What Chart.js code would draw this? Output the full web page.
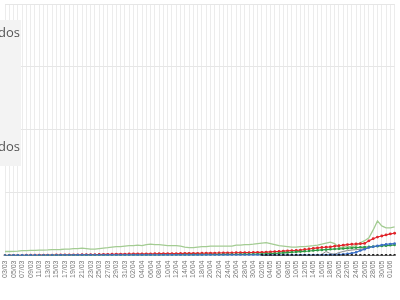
<!DOCTYPE html>
<html>
<head>
<meta charset="utf-8">
<script src="https://cdn.jsdelivr.net/npm/chart.js@4"></script>
<style>
  html, body { margin: 0; padding: 0; background: #fff; overflow: hidden; }
  #wrap { position: absolute; left: 0; top: 0; width: 408px; height: 300px; }
</style>
</head>
<body>
<div id="wrap"><canvas id="grafico"></canvas></div>
<script>
// fechas (dia/mes)
const fechas = [
  "03/03","04/03","05/03","06/03","07/03","08/03","09/03","10/03","11/03","12/03","13/03","14/03","15/03","16/03","17/03","18/03",
  "19/03","20/03","21/03","22/03","23/03","24/03","25/03","26/03","27/03","28/03","29/03","30/03","31/03","01/04","02/04","03/04",
  "04/04","05/04","06/04","07/04","08/04","09/04","10/04","11/04","12/04","13/04","14/04","15/04","16/04","17/04","18/04","19/04",
  "20/04","21/04","22/04","23/04","24/04","25/04","26/04","27/04","28/04","29/04","30/04","01/05","02/05","03/05","04/05","05/05",
  "06/05","07/05","08/05","09/05","10/05","11/05","12/05","13/05","14/05","15/05","16/05","17/05","18/05","19/05","20/05","21/05",
  "22/05","23/05","24/05","25/05","26/05","27/05","28/05","29/05","30/05","31/05","01/06","02/06"
];

// nuevos casos (linea verde clara)
const nuevos = [
  190,190,195,210,235,235,240,240,260,260,265,280,280,285,305,305,
  330,330,355,330,305,305,330,355,375,400,425,425,450,470,470,495,
  470,520,540,520,520,495,470,470,470,450,400,375,375,400,425,425,
  450,450,450,450,450,450,495,495,520,520,540,565,590,610,565,520,
  470,450,425,400,400,425,425,450,470,495,540,590,635,565,375,400,
  425,425,470,610,705,845,1220,1650,1410,1320,1320,1365
];

// confirmados (rojo)
const confirmados = [
  0,2,4,5,8,10,12,13,15,17,18,20,22,24,25,28,
  30,33,36,40,42,45,48,52,55,58,61,64,67,70,72,74,
  76,78,80,82,84,86,88,90,92,94,96,98,100,103,106,109,
  112,115,118,121,124,127,130,133,136,139,142,145,152,160,170,180,
  190,205,220,235,245,260,285,310,335,360,380,395,415,440,465,490,
  520,535,550,560,575,700,800,880,930,980,1030,1060
];

// recuperados (verde)
const recuperados = [
  0,0,0,0,0,0,0,0,0,0,1,1,1,2,2,3,
  3,4,4,5,5,6,7,8,9,10,11,12,13,14,15,16,
  17,18,19,20,21,22,23,24,25,26,27,28,29,30,32,34,
  36,38,40,42,44,46,48,50,52,55,58,62,66,75,85,95,
  110,125,140,155,170,185,200,215,235,250,265,280,295,310,320,330,
  345,360,375,390,400,410,425,440,455,470,485,505
];

// activos (azul)
const activos = [
  0,2,3,4,6,7,8,9,10,10,11,12,12,13,13,14,
  14,15,15,15,16,16,16,17,17,17,17,18,18,18,18,18,
  18,19,19,19,19,19,19,19,20,20,20,20,20,20,20,20,
  20,20,20,20,20,20,20,20,20,20,21,21,21,21,21,22,
  22,22,22,22,22,23,23,23,23,24,25,26,28,30,40,60,
  80,110,150,235,300,380,420,460,500,530,550,570
];

// sospechosos (gris)
const sospechosos = [
  null,null,null,null,null,null,null,null,null,null,null,null,null,null,null,null,
  null,null,null,null,null,null,null,null,null,null,null,null,null,null,null,null,
  null,null,null,null,null,null,null,null,null,null,null,null,null,null,null,null,
  null,null,null,null,null,null,null,null,null,null,null,null,null,null,null,null,
  null,null,null,null,null,null,null,null,null,null,60,190,90,60,140,190,
  235,260,280,300,330,350,null,null,null,null,null,null
];

// fallecidos (negro)
const fallecidos = [
  null,null,null,null,null,null,null,null,null,null,null,null,null,null,null,null,
  null,null,null,null,null,null,null,null,null,null,null,null,null,null,null,null,
  null,null,null,null,null,null,null,null,null,null,null,null,null,null,null,null,
  null,null,null,null,null,null,null,null,null,null,null,null,0,0,0,0,
  0,0,0,0,0,0,0,0,0,0,0,0,0,0,0,0,
  0,0,0,0,0,0,0,0,0,0,0,0
];

// caja gris de la izquierda (recortada)
const cajaLeyenda = {
  id: 'cajaLeyenda',
  afterDraw(chart) {
    const c = chart.ctx;
    c.save();
    c.fillStyle = '#f3f3f3';
    c.fillRect(0, 20, 21, 146);
    c.fillStyle = '#555';
    c.font = '13px "Open Sans", sans-serif';
    c.textAlign = 'right';
    c.textBaseline = 'middle';
    c.fillText('Recuperados', 20, 33);
    c.fillText('Fallecidos', 20, 147);
    c.restore();
  }
};

const ctx = document.getElementById('grafico');
new Chart(ctx, {
  type: 'line',
  data: {
    labels: fechas,
    datasets: [
      { label: 'Fallecidos', data: fallecidos, borderColor: '#111', backgroundColor: '#111',
        borderWidth: 1, pointRadius: 1.4, pointBorderWidth: 0 },
      { label: 'Activos', data: activos, borderColor: '#3b6fc4', backgroundColor: '#3b6fc4',
        borderWidth: 1.2, pointRadius: 1.3, pointBorderWidth: 0 },
      { label: 'Sospechosos', data: sospechosos, borderColor: '#8a8a8a', backgroundColor: '#8a8a8a',
        borderWidth: 1, pointRadius: 0 },
      { label: 'Recuperados', data: recuperados, borderColor: '#2e9a44', backgroundColor: '#2e9a44',
        borderWidth: 1.2, pointRadius: 1.3, pointBorderWidth: 0 },
      { label: 'Confirmados', data: confirmados, borderColor: '#e0252b', backgroundColor: '#e0252b',
        borderWidth: 1.2, pointRadius: 1.4, pointBorderWidth: 0 },
      { label: 'Nuevos', data: nuevos, borderColor: '#a3cc92', backgroundColor: '#a3cc92',
        borderWidth: 1.3, pointRadius: 0 }
    ]
  },
  options: {
    responsive: true,
    maintainAspectRatio: false,
    animation: false,
    spanGaps: false,
    layout: { padding: { left: 0, right: 0, top: 2, bottom: 17 } },
    plugins: { legend: { display: false }, tooltip: { enabled: false } },
    scales: {
      x: {
        offset: false,
        grid: { color: '#ececec', lineWidth: 1, drawTicks: false },
        border: { display: false },
        ticks: {
          color: '#777', font: { size: 7 }, minRotation: 90, maxRotation: 90,
          autoSkip: false, padding: 5,
          callback: function(v, i) { return i % 2 === 0 ? this.getLabelForValue(v) : ''; }
        }
      },
      y: {
        min: 0, max: 12000,
        grid: { color: '#e6e6e6', drawTicks: false },
        border: { display: false },
        ticks: { display: false, stepSize: 3000 }
      }
    }
  },
  plugins: [cajaLeyenda]
});
</script>
</body>
</html>
